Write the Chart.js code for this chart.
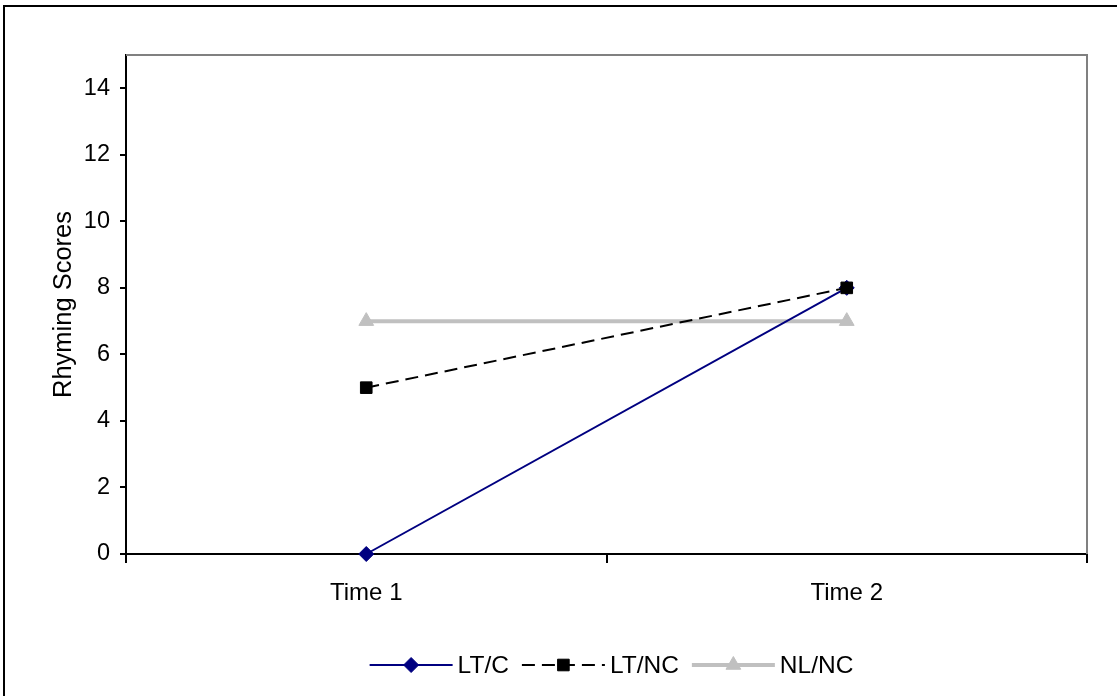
<!DOCTYPE html>
<html>
<head>
<meta charset="utf-8">
<title>Rhyming Scores</title>
<script src="https://cdn.jsdelivr.net/npm/chart.js@4/dist/chart.umd.min.js"></script>
<style>
    html, body { margin: 0; padding: 0; background: #fff; }
    #wrap { width: 1117px; height: 696px; position: relative; }
</style>
</head>
<body>
<div id="wrap"><canvas id="rhymeChart"></canvas></div>
<script>
// --- DATA ---
const timeLabels = ['Time 1', 'Time 2'];
const ltcScores = [0, 8];
const ltncScores = [5, 8];
const nlncScores = [7, 7];
const yTicks = [0, 2, 4, 6, 8, 10, 12, 14];

const FONT = "Arial, 'Liberation Sans', sans-serif";
Chart.defaults.font.family = FONT;
Chart.defaults.font.size = 24;
Chart.defaults.color = '#000';

// --- PLUGINS ---
// white page, outer frame and the grey top/right edges of the plot area
const framePlugin = {
    id: 'frame',
    beforeDraw(chart) {
        const ctx = chart.ctx;
        ctx.save();
        ctx.fillStyle = '#fff';
        ctx.fillRect(0, 0, chart.width, chart.height);
        ctx.strokeStyle = '#000';
        ctx.lineWidth = 2;
        ctx.beginPath();
        ctx.moveTo(4, chart.height);
        ctx.lineTo(4, 6);
        ctx.lineTo(chart.width, 6);
        ctx.stroke();
        ctx.restore();
    },
    beforeDatasetsDraw(chart) {
        const { ctx, chartArea: a } = chart;
        ctx.save();
        ctx.strokeStyle = '#808080';
        ctx.lineWidth = 2;
        ctx.beginPath();
        ctx.moveTo(a.left, a.top);
        ctx.lineTo(a.right, a.top);
        ctx.lineTo(a.right, a.bottom);
        ctx.stroke();
        ctx.restore();
    }
};

// legend drawn as line + marker samples, like the spreadsheet one
const sampleLegend = {
    id: 'sampleLegend',
    afterDraw(chart) {
        const ctx = chart.ctx;
        const a = chart.chartArea;
        const lineLen = 83, gapText = 5, gapItem = 13;
        const y = 665;
        ctx.save();
        ctx.font = '24.5px ' + FONT;
        const items = chart.data.datasets;
        let total = 0;
        items.forEach((ds, i) => {
            total += lineLen + gapText + ctx.measureText(ds.label).width;
            if (i < items.length - 1) total += gapItem;
        });
        let x = (a.left + a.right) / 2 + 5 - total / 2;
        items.forEach(ds => {
            ctx.strokeStyle = ds.borderColor;
            ctx.lineWidth = ds.borderWidth;
            ctx.setLineDash(ds.borderDash || []);
            ctx.beginPath();
            ctx.moveTo(x, y);
            ctx.lineTo(x + lineLen, y);
            ctx.stroke();
            ctx.setLineDash([]);
            ctx.fillStyle = ds.pointBackgroundColor;
            ctx.strokeStyle = ds.pointBorderColor;
            ctx.lineWidth = 1;
            Chart.helpers.drawPoint(ctx, {
                pointStyle: ds.pointStyle,
                radius: ds.pointRadius,
                borderWidth: 1,
                rotation: 0
            }, x + lineLen / 2, y);
            x += lineLen + gapText;
            ctx.fillStyle = '#000';
            ctx.textBaseline = 'middle';
            ctx.textAlign = 'left';
            ctx.fillText(ds.label, x, y + 1);
            x += ctx.measureText(ds.label).width + gapItem;
        });
        ctx.restore();
    }
};

// --- CHART ---
const ctx = document.getElementById('rhymeChart').getContext('2d');
const rhymeChart = new Chart(ctx, {
    type: 'line',
    data: {
        labels: timeLabels,
        datasets: [
            {
                label: 'LT/C',
                data: ltcScores,
                borderColor: '#000080',
                borderWidth: 2,
                pointStyle: 'rectRot',
                pointRadius: 7.5,
                pointBackgroundColor: '#000080',
                pointBorderColor: '#000080',
                pointBorderWidth: 1,
                order: 2,
                clip: false
            },
            {
                label: 'LT/NC',
                data: ltncScores,
                borderColor: '#000',
                borderWidth: 2,
                borderDash: [13, 7],
                pointStyle: 'rect',
                pointRadius: 8.2,
                pointBackgroundColor: '#000',
                pointBorderColor: '#000',
                pointBorderWidth: 1,
                order: 1,
                clip: false
            },
            {
                label: 'NL/NC',
                data: nlncScores,
                borderColor: '#c0c0c0',
                borderWidth: 4,
                pointStyle: 'triangle',
                pointRadius: 8.5,
                pointBackgroundColor: '#c0c0c0',
                pointBorderColor: '#c0c0c0',
                pointBorderWidth: 1,
                order: 3,
                clip: false
            }
        ]
    },
    options: {
        responsive: true,
        maintainAspectRatio: false,
        animation: false,
        layout: { padding: { top: 55, right: 30, left: 0, bottom: 0 } },
        scales: {
            x: {
                offset: true,
                grid: { offset: true, drawOnChartArea: false, tickLength: 9, color: '#000', lineWidth: 2 },
                border: { display: true, color: '#000', width: 2 },
                ticks: { padding: 16, maxRotation: 0, font: { size: 24 } },
                afterFit(scale) { scale.height = 142; }
            },
            y: {
                min: 0,
                max: 15,
                grid: { drawOnChartArea: false, tickLength: 6, color: '#000', lineWidth: 2 },
                border: { display: true, color: '#000', width: 2 },
                ticks: { stepSize: 2, includeBounds: false, padding: 10, font: { size: 23.5 } },
                afterBuildTicks(scale) {
                    scale.ticks = yTicks.map(v => ({ value: v }));
                },
                title: {
                    display: true,
                    text: 'Rhyming Scores',
                    font: { size: 25.5 },
                    padding: { top: 49, bottom: 0 }
                },
                afterFit(scale) { scale.width = 126; }
            }
        },
        plugins: {
            legend: { display: false },
            tooltip: { enabled: false }
        }
    },
    plugins: [framePlugin, sampleLegend]
});
</script>
</body>
</html>
